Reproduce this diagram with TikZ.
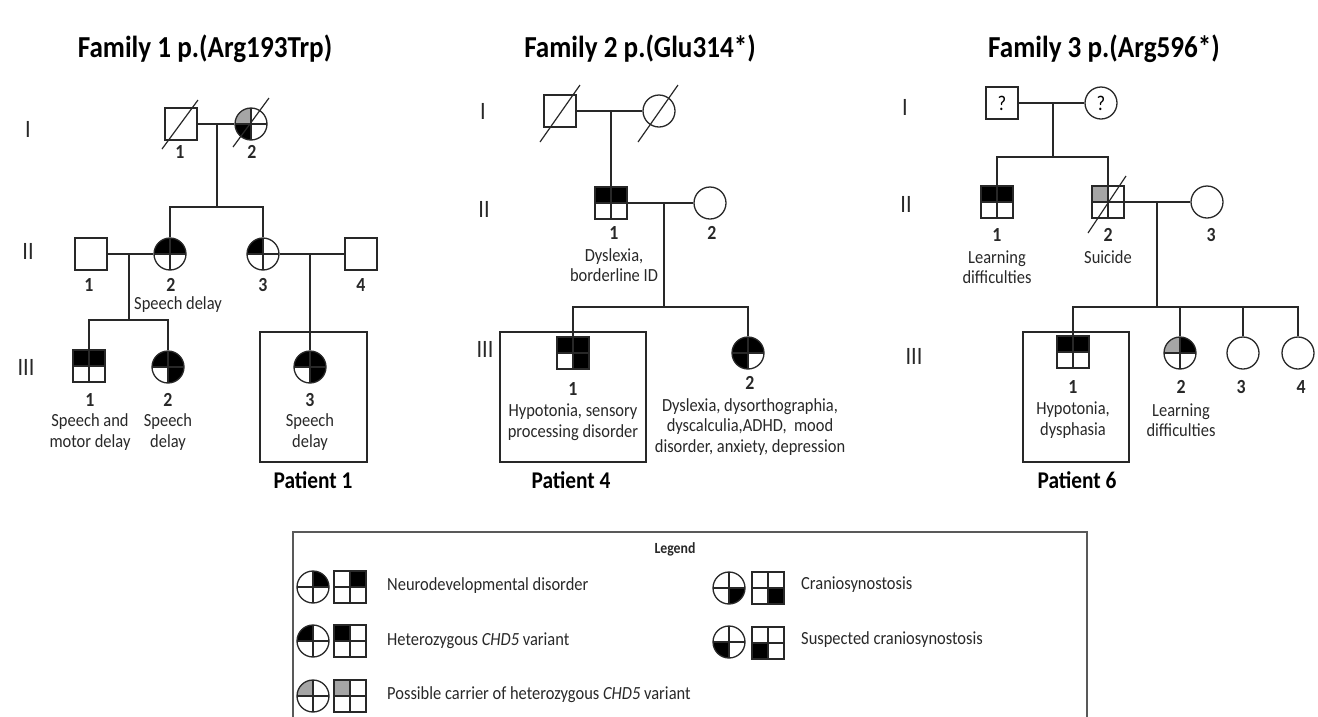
\documentclass[tikz,border=0pt]{standalone}
\usepackage{fontspec}
\setmainfont{Carlito}[FakeStretch=0.89]
\definecolor{cgray}{RGB}{165,165,165}
\definecolor{ink}{RGB}{40,40,40}
\newcommand{\lblfont}{\fontsize{18.5}{20.5}\selectfont}
\newcommand{\numfont}{\fontsize{20}{22}\selectfont\bfseries}
\newcommand{\genfont}{\fontsize{25}{28}\selectfont}
\newcommand{\titfont}{\fontsize{30.5}{33}\selectfont\bfseries}
\newcommand{\patfont}{\fontsize{24}{26}\selectfont\bfseries}
\begin{document}
\begin{tikzpicture}[x=1pt,y=-1pt,
  sym/.style={draw=ink, line width=1.3pt, inner sep=0pt, minimum size=32pt, fill=white},
  male/.style={sym, rectangle},
  female/.style={sym, circle},
  quads/.style args={#1/#2/#3/#4}{path picture={
      \fill[#1] (path picture bounding box.center) rectangle (path picture bounding box.north west);
      \fill[#2] (path picture bounding box.center) rectangle (path picture bounding box.north east);
      \fill[#3] (path picture bounding box.center) rectangle (path picture bounding box.south west);
      \fill[#4] (path picture bounding box.center) rectangle (path picture bounding box.south east);
      \draw[ink, line width=1.3pt] (path picture bounding box.north) -- (path picture bounding box.south)
        (path picture bounding box.west) -- (path picture bounding box.east);}},
  rel/.style={draw=ink, line width=1.3pt},
  dead/.style={draw=ink, line width=1.2pt},
  num/.style={font=\numfont, text=ink, inner sep=0pt},
  lbl/.style={font=\lblfont, text=ink, align=center, inner sep=0pt},
  gen/.style={font=\genfont, text=ink, inner sep=0pt},
  tit/.style={font=\titfont, text=black, inner sep=0pt},
  pat/.style={font=\patfont, text=black, inner sep=0pt},
  pbox/.style={draw=ink, line width=2pt, inner sep=0pt},
  leg/.style={font=\lblfont, text=ink, anchor=west, inner sep=0pt}
]
\useasboundingbox (0,0) rectangle (1318,716);

% ---------------- Titles ----------------
\node[tit] (t1) at (205,49) {Family 1 p.(Arg193Trp)};
\node[tit] (t2) at (640,49) {Family 2 p.(Glu314*)};
\node[tit] (t3) at (1104,49) {Family 3 p.(Arg596*)};

% ---------------- Family 1 ----------------
\node[gen] (g1a) at (28,129) {I};
\node[gen] (g1b) at (28,251) {II};
\node[gen] (g1c) at (26,367) {III};

\node[male] (a11) at (181,124) {};
\node[female, quads=cgray/white/black/white] (a12) at (251,124) {};
\draw[dead] ([shift={(-19,25)}]a11.center) -- ([shift={(17,-24)}]a11.center);
\draw[dead] ([shift={(-18,23)}]a12.center) -- ([shift={(18,-26)}]a12.center);
\node[num] (na11) at (180,152) {1};
\node[num] (na12) at (252,152) {2};
\coordinate (ma1) at (217,124);
\coordinate (sa1) at (217,207);
\draw[rel] (a11) -- (a12);
\draw[rel] (ma1) -- (sa1);

\node[male] (a21) at (91,254) {};
\node[female, quads=black/black/white/white] (a22) at (170,254) {};
\node[female, quads=black/white/white/white] (a23) at (263,254) {};
\node[male] (a24) at (361,254) {};
\draw[rel] (a22.north) |- (sa1) -| (a23.north);
\node[num] (na21) at (89,285) {1};
\node[num] (na22) at (171,285) {2};
\node[num] (na23) at (263,285) {3};
\node[num] (na24) at (361,285) {4};
\node[lbl] (la22) at (178,305) {Speech delay};
\coordinate (ma2) at (129,254);
\coordinate (sa2) at (129,320);
\coordinate (ma3) at (310,254);
\draw[rel] (a21) -- (a22);
\draw[rel] (a23) -- (a24);
\draw[rel] (ma2) -- (sa2);

\node[male, quads=black/black/white/white] (a31) at (89,366) {};
\node[female, quads=black/black/white/black] (a32) at (168,367) {};
\node[female, quads=black/black/white/black] (a33) at (310,367) {};
\draw[rel] (a31.north) |- (sa2) -| (a32.north);
\draw[rel] (ma3) -- (a33.north);
\node[num] (na31) at (90,400) {1};
\node[num] (na32) at (168,400) {2};
\node[num] (na33) at (310,400) {3};
\node[lbl] (la31) at (90,432) {Speech and\\motor delay};
\node[lbl] (la32) at (168,432) {Speech\\delay};
\node[lbl] (la33) at (310,432) {Speech\\delay};
\node[pbox, minimum width=107pt, minimum height=130pt] (pb1) at (313.5,397) {};
\node[pat] (p1) at (313,480) {Patient 1};

% ---------------- Family 2 ----------------
\node[gen] (g2a) at (483,111) {I};
\node[gen] (g2b) at (484,209) {II};
\node[gen] (g2c) at (485,349) {III};

\node[male] (b11) at (560,111) {};
\node[female] (b12) at (659,111) {};
\draw[dead] ([shift={(-20,31)}]b11.center) -- ([shift={(20,-26)}]b11.center);
\draw[dead] ([shift={(-21,31)}]b12.center) -- ([shift={(19,-26)}]b12.center);
\coordinate (mb1) at (611,111);
\draw[rel] (b11) -- (b12);

\node[male, quads=black/black/white/white] (b21) at (611,203) {};
\node[female] (b22) at (710,203) {};
\draw[rel] (mb1) -- (b21.north);
\draw[rel] (b21) -- (b22);
\node[num] (nb21) at (614,233) {1};
\node[num] (nb22) at (712,233) {2};
\node[lbl] (lb21) at (614,265) {Dyslexia,\\borderline ID};
\coordinate (mb2) at (664,203);
\coordinate (sb2) at (664,307);
\draw[rel] (mb2) -- (sb2);

\node[male, quads=black/black/white/black] (b31) at (573,353) {};
\node[female, quads=black/black/black/white] (b32) at (748,353) {};
\draw[rel] (b31.north) |- (sb2) -| (b32.north);
\node[num] (nb31) at (573,389) {1};
\node[num] (nb32) at (750,383) {2};
\node[lbl] (lb31) at (573,422) {Hypotonia, sensory\\processing disorder};
\node[lbl] (lb32) at (750,427) {Dyslexia, dysorthographia,\\dyscalculia,ADHD,\ \ mood\\disorder, anxiety, depression};
\node[pbox, minimum width=146pt, minimum height=130pt] (pb4) at (573,397) {};
\node[pat] (p4) at (571,480) {Patient 4};

% ---------------- Family 3 ----------------
\node[gen] (g3a) at (905,107) {I};
\node[gen] (g3b) at (906,204) {II};
\node[gen] (g3c) at (914,356) {III};

\node[male, font=\fontsize{21}{23}\selectfont] (c11) at (1002,103) {?};
\node[female, font=\fontsize{21}{23}\selectfont] (c12) at (1101,103) {?};
\draw[rel] (c11) -- (c12);
\coordinate (mc1) at (1053,103);
\coordinate (sc1) at (1053,157);
\draw[rel] (mc1) -- (sc1);

\node[male, quads=black/black/white/white] (c21) at (997,202) {};
\node[male, quads=cgray/white/white/white] (c22) at (1108,202) {};
\node[female] (c23) at (1207,202) {};
\draw[dead] ([shift={(-20,31)}]c22.center) -- ([shift={(18,-26)}]c22.center);
\draw[rel] (c21.north) |- (sc1) -| (c22.north);
\draw[rel] (c22) -- (c23);
\node[num] (nc21) at (997,235) {1};
\node[num] (nc22) at (1108,235) {2};
\node[num] (nc23) at (1211,235) {3};
\node[lbl] (lc21) at (997,267) {Learning\\difficulties};
\node[lbl] (lc22) at (1108,257) {Suicide};
\coordinate (mc2) at (1157,202);
\coordinate (sc2) at (1157,307);
\draw[rel] (mc2) -- (sc2);

\node[male, quads=black/black/white/white] (c31) at (1073,352) {};
\node[female, quads=cgray/black/white/white] (c32) at (1180,353) {};
\node[female] (c33) at (1243,353) {};
\node[female] (c34) at (1298,353) {};
\draw[rel] (c31.north) |- (sc2) -| (c34.north);
\draw[rel] (c32.north) |- (sc2);
\draw[rel] (c33.north) |- (sc2);
\node[num] (nc31) at (1073,387) {1};
\node[num] (nc32) at (1181,387) {2};
\node[num] (nc33) at (1241,387) {3};
\node[num] (nc34) at (1301,387) {4};
\node[lbl] (lc31) at (1073,420) {Hypotonia,\\dysphasia};
\node[lbl] (lc32) at (1181,420) {Learning\\difficulties};
\node[pbox, minimum width=106pt, minimum height=130pt] (pb6) at (1076,397) {};
\node[pat] (p6) at (1077,480) {Patient 6};

% ---------------- Legend ----------------
\draw[draw=black!65, line width=1.5pt] (293,717) -- (293,532) -- (1087,532) -- (1087,717);
\node[font=\fontsize{15.5}{17}\selectfont\bfseries, text=ink, inner sep=0pt] (legt) at (675,549) {Legend};

\node[female, quads=white/black/white/white] (lf1) at (313,587) {};
\node[male, quads=white/black/white/white] (lm1) at (350,587) {};
\node[leg] (lt1) at (387,586) {Neurodevelopmental disorder};

\node[female, quads=black/white/white/white] (lf2) at (313,641) {};
\node[male, quads=black/white/white/white] (lm2) at (350,641) {};
\node[leg] (lt2) at (387,641) {Heterozygous \textit{CHD5} variant};

\node[female, quads=cgray/white/white/white] (lf3) at (313,696) {};
\node[male, quads=cgray/white/white/white] (lm3) at (350,696) {};
\node[leg] (lt3) at (387,695) {Possible carrier of heterozygous \textit{CHD5} variant};

\node[female, quads=white/white/white/black] (lf4) at (729,588) {};
\node[male, quads=white/white/white/black] (lm4) at (768,588) {};
\node[leg] (lt4) at (801,585) {Craniosynostosis};

\node[female, quads=white/white/black/white] (lf5) at (729,642) {};
\node[male, quads=white/white/black/white] (lm5) at (768,643) {};
\node[leg] (lt5) at (801,640) {Suspected craniosynostosis};
\end{tikzpicture}
\end{document}
